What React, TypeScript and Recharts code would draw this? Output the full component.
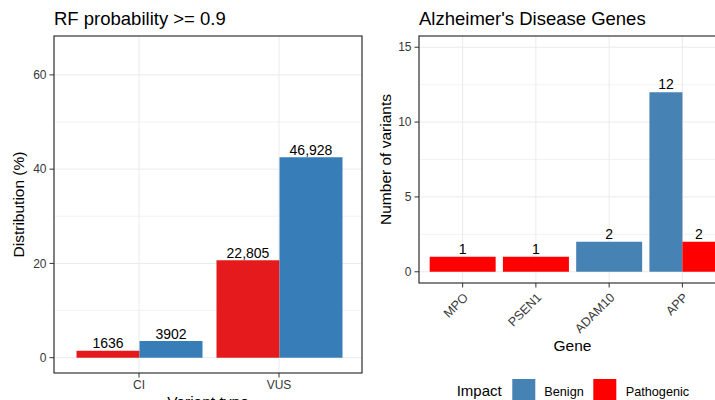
import React from 'react';
import { BarChart, Bar, XAxis, YAxis, CartesianGrid, LabelList, Cell } from 'recharts';

const FONT = '"Liberation Sans", Arial, Helvetica, sans-serif';

// Left panel data
const variantTypes = ['CI', 'VUS'];
const pathogenicPct = [1.48, 20.65];
const benignPct = [3.53, 42.5];
const pathogenicCount = ['1636', '22,805'];
const benignCount = ['3902', '46,928'];
const leftTicks = [0, 20, 40, 60];
const leftMinor = [10, 30, 50];

// Right panel data
const genes = ['MPO', 'PSEN1', 'ADAM10', 'APP'];
const geneBenign = [0, 0, 2, 12];
const genePathogenic = [1, 1, 0, 2];
const rightTicks = [0, 5, 10, 15];
const rightMinor = [2.5, 7.5, 12.5];

const impactLevels = ['Benign', 'Pathogenic'];

const LEFT_RED = '#E41A1C';
const LEFT_BLUE = '#377EB8';
const RIGHT_BLUE = '#4682B4';
const RIGHT_RED = '#FF0000';
const GRID = '#EBEBEB';
const AXIS = '#333333';
const TICK_TEXT = '#383838';

// Layout (panel frames)
const H = 400;
const TOP = 36;
const L_CHART_W = 370;
const L_PLOT_X = 54;
const L_PLOT_R = 362;
const L_PLOT_B = 373;
const R_CHART_X = 360;
const R_CHART_W = 374;
const R_PLOT_X = 419;
const R_PLOT_R = 726;
const R_PLOT_B = 283;

const leftData = variantTypes.map((t, i) => ({
  type: t,
  pathogenic: pathogenicPct[i],
  benign: benignPct[i],
  pathogenicLabel: pathogenicCount[i],
  benignLabel: benignCount[i],
}));

const geneRows = genes.map((g, i) => {
  const b = geneBenign[i];
  const p = genePathogenic[i];
  const both = b > 0 && p > 0;
  return {
    gene: g,
    solo: both ? null : b > 0 ? b : p,
    soloImpact: both ? null : b > 0 ? 'Benign' : 'Pathogenic',
    pairBenign: both ? b : null,
    pairPath: both ? p : null,
  };
});

function rotatedTitle(text: string, x: number) {
  return (props: any) => {
    const vb = props.viewBox || { y: 0, height: 0 };
    const cy = vb.y + vb.height / 2;
    return (
      <text
        x={x}
        y={cy}
        transform={`rotate(-90 ${x} ${cy})`}
        textAnchor="middle"
        fontSize={15.5}
        fill="#000"
        fontFamily={FONT}
      >
        {text}
      </text>
    );
  };
}

const GeneTick = (props: any) => {
  const { x, y, payload } = props;
  return (
    <text
      x={x}
      y={y}
      transform={`rotate(-45 ${x} ${y})`}
      textAnchor="end"
      dy="0.71em"
      fontSize={12.5}
      fill={TICK_TEXT}
      fontFamily={FONT}
    >
      {payload.value}
    </text>
  );
};

const labelStyle = { fontSize: 14, fill: '#000', fontFamily: FONT };

export default function App() {
  return (
    <div
      style={{
        position: 'absolute',
        left: 0,
        top: 0,
        width: 715,
        height: H,
        overflow: 'hidden',
        background: '#fff',
        fontFamily: FONT,
      }}
    >
      <div style={{ position: 'absolute', left: 0, top: 0 }}>
        <BarChart
          width={L_CHART_W}
          height={H}
          data={leftData}
          margin={{ top: TOP, right: L_CHART_W - L_PLOT_R, bottom: 0, left: 0 }}
          barCategoryGap={7.5}
          barGap={0}
        >
          <CartesianGrid stroke={GRID} strokeWidth={0.6} vertical={false} horizontalValues={leftMinor} />
          <CartesianGrid stroke={GRID} horizontalValues={leftTicks} />
          <XAxis
            dataKey="type"
            padding={{ left: 15, right: 13 }}
            height={H - L_PLOT_B}
            tickSize={4.5}
            tickMargin={3}
            axisLine={false}
            stroke={AXIS}
            tick={{ fontSize: 12, fill: TICK_TEXT }}
            label={{ value: 'Variant type', position: 'insideBottom', offset: -7, fontSize: 15.5, fill: '#000' }}
          />
          <YAxis
            type="number"
            domain={[-3.25, 68.25]}
            allowDataOverflow
            ticks={leftTicks}
            width={L_PLOT_X}
            tickSize={4.5}
            tickMargin={3}
            axisLine={false}
            stroke={AXIS}
            tick={{ fontSize: 12, fill: TICK_TEXT }}
            label={{ value: 'Distribution (%)', content: rotatedTitle('Distribution (%)', 24) }}
          />
          <Bar dataKey="pathogenic" fill={LEFT_RED} isAnimationActive={false}>
            <LabelList dataKey="pathogenicLabel" position="top" offset={2.5} {...labelStyle} />
          </Bar>
          <Bar dataKey="benign" fill={LEFT_BLUE} isAnimationActive={false}>
            <LabelList dataKey="benignLabel" position="top" offset={2.5} {...labelStyle} />
          </Bar>
        </BarChart>
      </div>

      <div style={{ position: 'absolute', left: R_CHART_X, top: 0 }}>
        <BarChart
          width={R_CHART_W}
          height={H}
          data={geneRows}
          margin={{ top: TOP, right: R_CHART_X + R_CHART_W - R_PLOT_R, bottom: 0, left: 0 }}
          barCategoryGap={3.67}
          barGap={0}
        >
          <CartesianGrid stroke={GRID} strokeWidth={0.6} vertical={false} horizontalValues={rightMinor} />
          <CartesianGrid stroke={GRID} horizontalValues={rightTicks} />
          <XAxis
            dataKey="gene"
            padding={{ left: 7, right: 7 }}
            height={H - R_PLOT_B}
            tickSize={4.5}
            tickMargin={4.5}
            interval={0}
            axisLine={false}
            stroke={AXIS}
            tick={<GeneTick />}
            label={{ value: 'Gene', position: 'insideBottom', offset: 49, fontSize: 15.5, fill: '#000' }}
          />
          <XAxis xAxisId="pair" dataKey="gene" padding={{ left: 7, right: 7 }} hide />
          <YAxis
            type="number"
            domain={[-0.75, 15.75]}
            allowDataOverflow
            ticks={rightTicks}
            width={R_PLOT_X - R_CHART_X}
            tickSize={4.5}
            tickMargin={3}
            axisLine={false}
            stroke={AXIS}
            tick={{ fontSize: 12, fill: TICK_TEXT }}
            label={{ value: 'Number of variants', content: rotatedTitle('Number of variants', 31) }}
          />
          <Bar dataKey="solo" isAnimationActive={false}>
            {geneRows.map((r, i) => (
              <Cell key={i} fill={r.soloImpact === 'Benign' ? RIGHT_BLUE : RIGHT_RED} />
            ))}
            <LabelList dataKey="solo" position="top" offset={3} {...labelStyle} />
          </Bar>
          <Bar xAxisId="pair" dataKey="pairBenign" fill={RIGHT_BLUE} isAnimationActive={false}>
            <LabelList dataKey="pairBenign" position="top" offset={3} {...labelStyle} />
          </Bar>
          <Bar xAxisId="pair" dataKey="pairPath" fill={RIGHT_RED} isAnimationActive={false}>
            <LabelList dataKey="pairPath" position="top" offset={3} {...labelStyle} />
          </Bar>
        </BarChart>
      </div>

      <svg
        width={715}
        height={H}
        style={{ position: 'absolute', left: 0, top: 0, pointerEvents: 'none' }}
        fontFamily={FONT}
      >
        <rect
          x={L_PLOT_X}
          y={TOP}
          width={L_PLOT_R - L_PLOT_X}
          height={L_PLOT_B - TOP}
          fill="none"
          stroke={AXIS}
          strokeWidth={1.2}
        />
        <rect
          x={R_PLOT_X}
          y={TOP}
          width={R_PLOT_R - R_PLOT_X}
          height={R_PLOT_B - TOP}
          fill="none"
          stroke={AXIS}
          strokeWidth={1.2}
        />
        <text x={54} y={24.5} fontSize={18.5} fill="#000">RF probability &gt;= 0.9</text>
        <text x={419} y={24.5} fontSize={18.5} fill="#000">Alzheimer's Disease Genes</text>
        <text x={456.7} y={395.8} fontSize={15} fill="#000">Impact</text>
        <rect x={512.3} y={379} width={23} height={23} fill={RIGHT_BLUE} />
        <text x={544.3} y={395.8} fontSize={12.7} fill="#000">{impactLevels[0]}</text>
        <rect x={593.3} y={379} width={23} height={23} fill={RIGHT_RED} />
        <text x={625.7} y={395.8} fontSize={12.7} fill="#000">{impactLevels[1]}</text>
      </svg>
    </div>
  );
}
